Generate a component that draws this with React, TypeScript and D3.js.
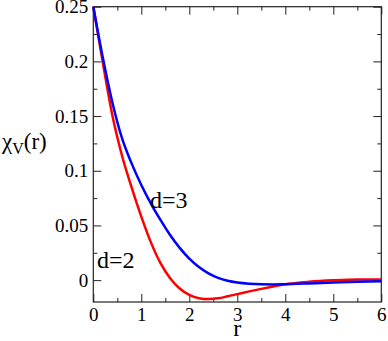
import React, { useEffect, useRef } from "react";
import * as d3 from "d3";

const rValues = [0, 0.2, 0.4, 0.6, 0.8, 1.0, 1.2, 1.4, 1.6, 1.8, 2.0, 2.2, 2.4, 2.6, 2.8, 3.0, 3.25, 3.5, 3.75, 4.0, 4.5, 5.0, 5.5, 6.0];
const chiD3 = [0.25, 0.203, 0.162, 0.1295, 0.1065, 0.087, 0.070, 0.055, 0.0412, 0.0295, 0.0197, 0.012, 0.0062, 0.0021, -0.0006, -0.0022, -0.0033, -0.0038, -0.0039, -0.0037, -0.003, -0.0022, -0.0015, -0.001];
const chiD2 = [0.25, 0.1985, 0.150, 0.1135, 0.0845, 0.058, 0.0345, 0.0155, 0.0018, -0.0076, -0.0135, -0.0165, -0.0173, -0.0166, -0.0148, -0.0128, -0.0103, -0.008, -0.0058, -0.0038, -0.0015, -0.0002, 0.0005, 0.0005];

const xMajor = [0, 1, 2, 3, 4, 5, 6];
const xMinor = [0.5, 1.5, 2.5, 3.5, 4.5, 5.5];
const xLabels = ["0", "1", "2", "3", "4", "5", "6"];
const yMajor = [0, 0.05, 0.1, 0.15, 0.2, 0.25];
const yMinor = [0.025, 0.075, 0.125, 0.175, 0.225];
const yLabels = ["0", "0.05", "0.1", "0.15", "0.2", "0.25"];

const W = 388;
const H = 341;
const FONT = "'Times New Roman', Times, 'Liberation Serif', 'DejaVu Serif', 'Noto Serif', serif";

export default function App() {
  const ref = useRef<SVGSVGElement>(null);

  useEffect(() => {
    const svg = d3.select(ref.current);
    svg.selectAll("*").remove();
    const x = d3.scaleLinear().domain([0, 6]).range([93.3, 381.3]);
    const y = d3.scaleLinear().domain([-0.02, 0.25]).range([302, 6.7]);
    const [x0, x1] = x.range();
    const [y0, y1] = y.range();

    const styleAxis = (g: any, fs: number) => {
      g.attr("font-family", null).attr("font-size", null);
      g.select(".domain").remove();
      g.selectAll("line").attr("stroke", "#222").attr("stroke-width", 1);
      g.selectAll("text").attr("fill", "#000")
        .style("font-family", FONT).style("font-size", fs + "px");
    };

    // bottom
    svg.append("g").attr("transform", `translate(0,${y0})`)
      .call(d3.axisBottom(x).tickValues(xMajor).tickSize(-8).tickPadding(5.5)
        .tickFormat((d: any, i: number) => xLabels[i]))
      .call((g: any) => styleAxis(g, 19));
    svg.append("g").attr("transform", `translate(0,${y0})`)
      .call(d3.axisBottom(x).tickValues(xMinor).tickSize(-4).tickFormat(() => ""))
      .call((g: any) => styleAxis(g, 19));
    // top
    svg.append("g").attr("transform", `translate(0,${y1})`)
      .call(d3.axisTop(x).tickValues(xMajor).tickSize(-8).tickFormat(() => ""))
      .call((g: any) => styleAxis(g, 19));
    svg.append("g").attr("transform", `translate(0,${y1})`)
      .call(d3.axisTop(x).tickValues(xMinor).tickSize(-4).tickFormat(() => ""))
      .call((g: any) => styleAxis(g, 19));
    // left
    svg.append("g").attr("transform", `translate(${x0},0)`)
      .call(d3.axisLeft(y).tickValues(yMajor).tickSize(-8).tickPadding(5)
        .tickFormat((d: any, i: number) => yLabels[i]))
      .call((g: any) => styleAxis(g, 19));
    svg.append("g").attr("transform", `translate(${x0},0)`)
      .call(d3.axisLeft(y).tickValues(yMinor).tickSize(-4).tickFormat(() => ""))
      .call((g: any) => styleAxis(g, 19));
    // right
    svg.append("g").attr("transform", `translate(${x1},0)`)
      .call(d3.axisRight(y).tickValues(yMajor).tickSize(-8).tickFormat(() => ""))
      .call((g: any) => styleAxis(g, 19));
    svg.append("g").attr("transform", `translate(${x1},0)`)
      .call(d3.axisRight(y).tickValues(yMinor).tickSize(-4).tickFormat(() => ""))
      .call((g: any) => styleAxis(g, 19));

    // frame
    svg.append("rect")
      .attr("x", x0).attr("y", y1)
      .attr("width", x1 - x0).attr("height", y0 - y1)
      .attr("fill", "none").attr("stroke", "#222").attr("stroke-width", 1.2);

    const line = d3.line<number>()
      .x((d, i) => x(rValues[i]))
      .y((d) => y(d))
      .curve(d3.curveMonotoneX);

    svg.append("path").datum(chiD2).attr("d", line as any)
      .attr("fill", "none").attr("stroke", "#ff0000").attr("stroke-width", 2.5);
    svg.append("path").datum(chiD3).attr("d", line as any)
      .attr("fill", "none").attr("stroke", "#0000ff").attr("stroke-width", 2.5);

    const txt = (sel: any, fs: number) =>
      sel.style("font-family", FONT).style("font-size", fs + "px").attr("fill", "#000");

    // labels
    txt(svg.append("text").attr("x", 150).attr("y", 208), 24).text("d=3");
    txt(svg.append("text").attr("x", 97).attr("y", 268), 24).text("d=2");
    txt(svg.append("text").attr("x", (x0 + x1) / 2).attr("y", 336)
      .attr("text-anchor", "middle"), 24).text("r");

    const yl = txt(svg.append("text").attr("x", 2).attr("y", 149), 23);
    yl.append("tspan").text("χ");
    yl.append("tspan").style("font-size", "16px").attr("dy", 5).text("V");
    yl.append("tspan").attr("dy", -5).text("(r)");
  }, []);

  return (
    <div style={{ position: "absolute", left: 0, top: 0 }}>
      <svg ref={ref} width={W} height={H} style={{ display: "block", background: "#fff" }} />
    </div>
  );
}
